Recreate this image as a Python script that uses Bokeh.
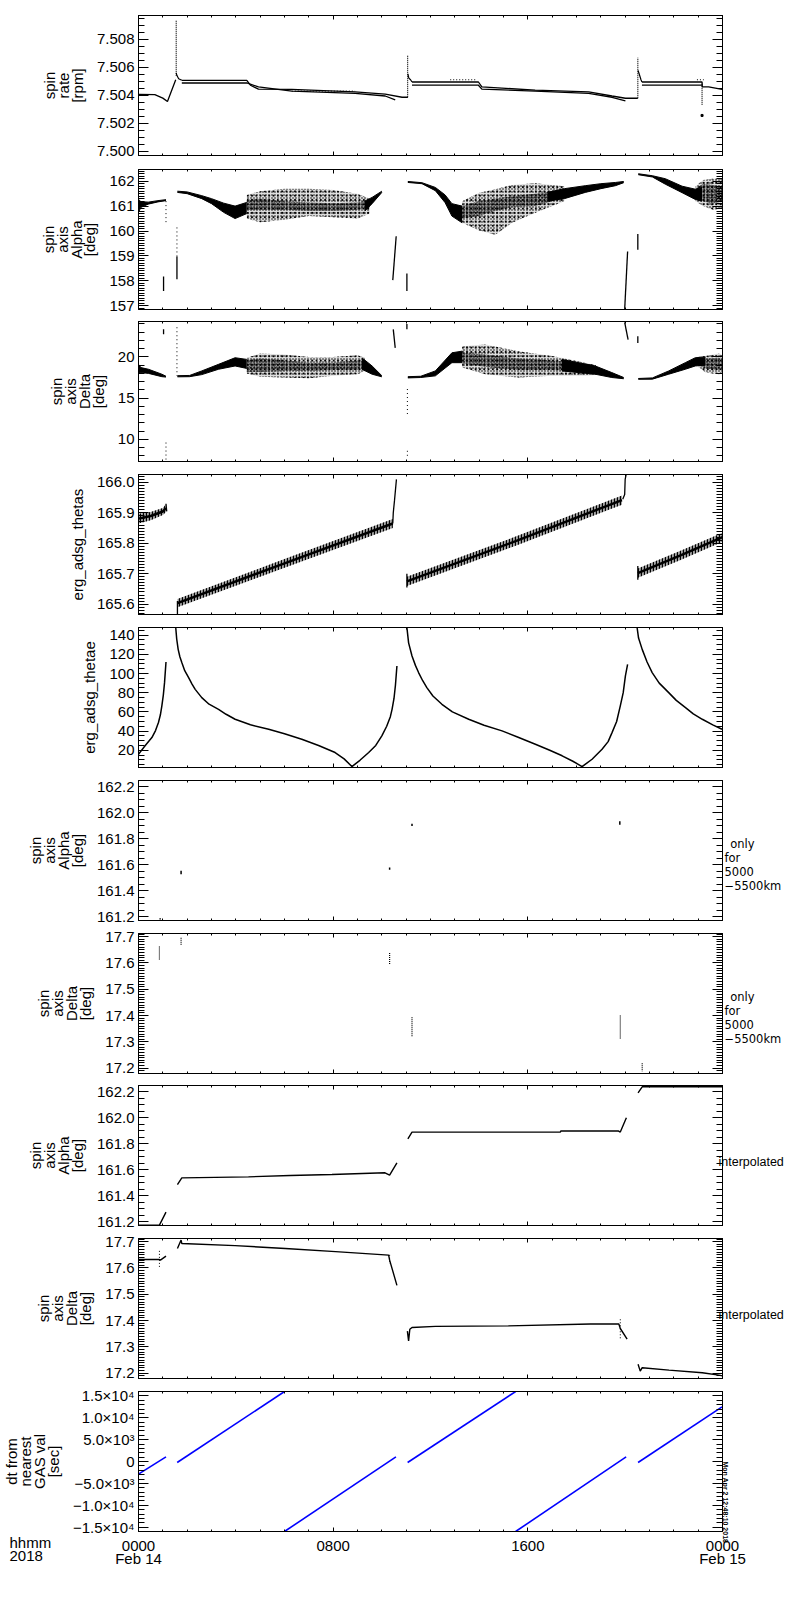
import numpy as np
from bokeh.plotting import figure
from bokeh.layouts import column
from bokeh.models import LinearAxis, FixedTicker, Range1d, Title
from bokeh.embed import file_html
from bokeh.resources import INLINE

FONT = "Liberation Sans"
SIDE_FONT = "DejaVu Sans"

# ---------------------------------------------------------------- x axis (hours after 2018-02-14 00:00)
x_major = [0, 8, 16, 24]
x_minor = list(range(0, 25))
x_tick_labels = ["0000\nFeb 14", "0800", "1600", "0000\nFeb 15"]

# ---------------------------------------------------------------- panel 1 : spin rate [rpm]
rate_ticks = [7.500, 7.502, 7.504, 7.506, 7.508]
rate_tick_labels = ["7.500", "7.502", "7.504", "7.506", "7.508"]
rate_start_t = [0.0, 0.67, 1.0, 1.19, 1.53]
rate_start_v = [7.50407, 7.50405, 7.50380, 7.50356, 7.50511]
rate_up1_t = [1.78, 4.45, 4.6, 4.93, 6.3, 8.9, 10.14, 10.83, 11.07]
rate_up1_v = [7.50507, 7.50507, 7.50472, 7.50444, 7.50442, 7.50425, 7.50409, 7.50386, 7.50386]
rate_lo1_t = [1.78, 4.45, 4.93, 6.3, 8.9, 10.14, 10.55]
rate_lo1_v = [7.50488, 7.50488, 7.50460, 7.50430, 7.50414, 7.50395, 7.50367]
rate_up2_t = [11.24, 13.97, 14.11, 16.3, 18.5, 19.46, 20.01, 20.52]
rate_up2_v = [7.50495, 7.50495, 7.50460, 7.50437, 7.50425, 7.50395, 7.50379, 7.50379]
rate_lo2_t = [11.24, 13.97, 14.11, 16.3, 18.5, 19.46, 20.01]
rate_lo2_v = [7.50472, 7.50472, 7.50444, 7.50430, 7.50414, 7.50386, 7.50360]
rate_up3_t = [20.69, 23.16, 23.17, 23.43, 23.98]
rate_up3_v = [7.50495, 7.50495, 7.50460, 7.50460, 7.50442]
rate_lo3_t = [20.69, 23.16]
rate_lo3_v = [7.50472, 7.50472]
rate_dec_t = [[1.55, 1.58, 1.65, 1.78], [11.07, 11.11, 11.18, 11.24], [20.53, 20.58, 20.65, 20.69]]
rate_dec_v = [[7.50560, 7.50541, 7.50518, 7.50507], [7.50553, 7.50523, 7.50511, 7.50495],
              [7.50578, 7.50550, 7.50511, 7.50495]]
rate_spike_t = [1.55, 11.06, 20.52, 23.16]
rate_spike_lo = [7.50540, 7.50386, 7.50379, 7.50332]
rate_spike_hi = [7.50940, 7.50688, 7.50669, 7.50483]
rate_dots_t = [12.81, 22.95, 6.3]
rate_dots_t1 = [13.90, 23.23, 8.9]
rate_dots_v = [7.50511, 7.50511, 7.50430]
rate_point_t = [23.16]
rate_point_v = [7.50256]

# ---------------------------------------------------------------- panel 2 : spin axis Alpha [deg]
alpha_ticks = [157, 158, 159, 160, 161, 162]
alpha_tick_labels = ["157", "158", "159", "160", "161", "162"]
alpha_solid_t = [[0, 0.1, 0.4, 0.8, 1.13],
                 [1.6, 2.0, 2.6, 3.0, 3.5, 3.97, 4.45],
                 [9.3, 9.6, 10.0],
                 [11.07, 11.65, 12.2, 12.6, 12.88, 13.3],
                 [16.8, 17.5, 18.36, 19.0, 19.6, 19.94],
                 [20.54, 21.12, 21.65, 22.34, 22.88, 23.16]]
alpha_solid_hi = [[161.27, 161.18, 161.16, 161.22, 161.26],
                  [161.60, 161.57, 161.42, 161.30, 161.12, 161.00, 161.15],
                  [161.20, 161.35, 161.60],
                  [161.99, 161.94, 161.75, 161.45, 161.10, 161.00],
                  [161.55, 161.70, 161.82, 161.90, 161.95, 161.99],
                  [162.30, 162.22, 162.10, 161.80, 161.68, 161.75]]
alpha_solid_lo = [[160.75, 160.95, 161.08, 161.17, 161.22],
                  [161.55, 161.50, 161.30, 161.10, 160.75, 160.50, 160.70],
                  [160.80, 161.10, 161.55],
                  [161.95, 161.90, 161.62, 161.14, 160.60, 160.33],
                  [161.20, 161.30, 161.55, 161.70, 161.82, 161.94],
                  [162.26, 162.17, 161.88, 161.54, 161.27, 161.20]]
alpha_cloud_t = [[4.45, 5.0, 6.0, 7.0, 8.0, 9.0, 9.5],
                 [13.3, 13.98, 14.66, 15.35, 16.3, 17.0, 17.5],
                 [22.9, 23.2, 23.6, 24.0]]
alpha_cloud_hi = [[161.45, 161.60, 161.70, 161.70, 161.65, 161.50, 161.30],
                  [161.20, 161.53, 161.68, 161.85, 161.92, 161.85, 161.80],
                  [161.80, 162.05, 162.10, 162.10]]
alpha_cloud_lo = [[160.50, 160.35, 160.45, 160.60, 160.55, 160.50, 160.70],
                  [160.33, 160.03, 159.85, 160.33, 160.73, 161.00, 161.20],
                  [161.20, 161.00, 160.85, 160.90]]
alpha_core_hi = [[161.25, 161.30, 161.20, 161.15, 161.12, 161.15, 161.25],
                 [161.00, 161.20, 161.30, 161.40, 161.50, 161.60, 161.70],
                 [161.70, 161.90, 161.85, 161.80]]
alpha_core_lo = [[160.85, 160.85, 160.85, 160.80, 160.80, 160.85, 160.95],
                 [160.50, 160.60, 160.80, 160.95, 161.00, 161.20, 161.40],
                 [161.30, 161.20, 161.10, 161.20]]
alpha_seg_t0 = [1.03, 10.45, 11.03, 19.98, 20.52, 1.58]
alpha_seg_t1 = [1.03, 10.59, 11.03, 20.10, 20.52, 1.58]
alpha_seg_v0 = [158.17, 158.03, 158.30, 156.85, 159.88, 158.06]
alpha_seg_v1 = [157.59, 159.79, 157.59, 159.18, 159.25, 158.98]
alpha_dot_t = [1.13, 1.58]
alpha_dot_v0 = [161.20, 158.98]
alpha_dot_v1 = [160.26, 160.20]

# ---------------------------------------------------------------- panel 3 : spin axis Delta [deg]
delta_ticks = [10, 15, 20]
delta_tick_labels = ["10", "15", "20"]
delta_solid_t = [[0, 0.1, 0.41, 0.96, 1.13],
                 [1.6, 2.1, 2.6, 3.29, 3.97, 4.45],
                 [9.18, 9.6, 10.0],
                 [11.07, 11.6, 12.2, 12.88, 13.3],
                 [17.4, 18.77, 19.45, 19.94],
                 [20.54, 21.12, 21.79, 22.47, 22.88, 23.3]]
delta_solid_hi = [[19.1, 18.7, 18.5, 17.9, 17.65],
                  [17.72, 17.75, 18.3, 19.1, 19.9, 19.7],
                  [19.9, 18.9, 17.72],
                  [17.6, 17.65, 18.3, 20.5, 20.7],
                  [19.7, 18.9, 18.1, 17.5],
                  [17.38, 17.45, 18.3, 19.3, 19.9, 20.0]]
delta_solid_lo = [[18.1, 18.1, 18.0, 17.6, 17.55],
                  [17.58, 17.6, 17.85, 18.5, 18.9, 18.6],
                  [18.5, 17.9, 17.58],
                  [17.45, 17.5, 17.7, 19.3, 19.3],
                  [18.3, 17.9, 17.5, 17.35],
                  [17.28, 17.3, 17.9, 18.5, 18.9, 19.0]]
delta_cloud_t = [[4.45, 5.0, 6.0, 7.0, 8.0, 9.0, 9.3],
                 [13.3, 14.25, 15.6, 17.0, 18.36, 18.8],
                 [23.0, 23.3, 23.85, 24.0]]
delta_cloud_hi = [[19.9, 20.4, 20.3, 20.0, 20.0, 20.2, 19.9],
                  [21.3, 21.5, 20.7, 20.1, 19.3, 19.0],
                  [20.0, 20.1, 20.4, 20.2]]
delta_cloud_lo = [[18.0, 17.6, 17.5, 17.4, 17.7, 17.9, 18.3],
                  [18.7, 17.9, 17.5, 17.7, 17.7, 17.8],
                  [18.8, 18.1, 17.9, 18.0]]
delta_core_hi = [[19.6, 19.8, 19.6, 19.3, 19.3, 19.6, 19.5],
                 [20.5, 20.3, 19.8, 19.6, 19.2, 18.9],
                 [19.8, 19.8, 19.9, 19.8]]
delta_core_lo = [[18.2, 18.2, 18.3, 18.3, 18.4, 18.4, 18.6],
                 [19.2, 18.8, 18.4, 18.4, 18.2, 18.0],
                 [19.0, 18.6, 18.4, 18.5]]
delta_seg_t0 = [1.03, 10.47, 11.03, 19.98, 20.52]
delta_seg_t1 = [1.03, 10.55, 11.03, 20.12, 20.52]
delta_seg_v0 = [23.35, 23.35, 24.0, 24.2, 22.5]
delta_seg_v1 = [22.75, 21.1, 23.35, 22.1, 21.7]
delta_dot_t = [1.13, 1.58, 11.05, 11.05]
delta_dot_v0 = [9.6, 23.6, 16.1, 8.6]
delta_dot_v1 = [7.3, 17.7, 12.8, 7.8]

# ---------------------------------------------------------------- panel 4 : erg_adsg_thetas
thetas_ticks = [165.6, 165.7, 165.8, 165.9, 166.0]
thetas_tick_labels = ["165.6", "165.7", "165.8", "165.9", "166.0"]
thetas_t = [[0, 0.5, 1.0, 1.13],
            [1.6, 6.0, 10.45],
            [11.03, 15.5, 19.87],
            [20.52, 22.3, 24.0]]
thetas_hi = [[165.897, 165.903, 165.916, 165.928],
             [165.617, 165.748, 165.880],
             [165.690, 165.822, 165.957],
             [165.717, 165.776, 165.835]]
thetas_lo = [[165.865, 165.876, 165.893, 165.903],
             [165.590, 165.720, 165.850],
             [165.660, 165.792, 165.927],
             [165.687, 165.746, 165.805]]
thetas_jump_t = [[1.6, 1.6], [10.45, 10.47, 10.52, 10.6], [19.9, 19.98, 20.0, 20.05],
                 [11.03, 11.03], [20.52, 20.52], [1.13, 1.16]]
thetas_jump_v = [[165.566, 165.61], [165.865, 165.90, 165.94, 166.01], [165.945, 165.96, 166.01, 166.03],
                 [165.655, 165.70], [165.68, 165.725], [165.93, 165.905]]

# ---------------------------------------------------------------- panel 5 : erg_adsg_thetae
thetae_ticks = [20, 40, 60, 80, 100, 120, 140]
thetae_tick_labels = ["20", "40", "60", "80", "100", "120", "140"]
thetae_t = [[0, 0.27, 0.55, 0.7, 0.82, 0.9, 0.96, 1.02, 1.07, 1.13],
            [1.53, 1.57, 1.63, 1.7, 1.78, 1.9, 2.06, 2.2, 2.33, 2.6, 2.9, 3.29, 3.6, 3.97,
             4.6, 5.35, 6.0, 6.71, 7.4, 8.08, 8.45, 8.77,
             9.1, 9.46, 9.75, 10.0, 10.2, 10.35, 10.42, 10.5, 10.56, 10.62],
            [11.03, 11.1, 11.24, 11.38, 11.51, 11.68, 11.85, 12.1, 12.47, 12.9, 13.57, 14.2, 14.94,
             15.6, 16.31, 16.9, 17.41, 17.85, 18.23,
             18.64, 19.05, 19.3, 19.46, 19.65, 19.8, 19.92, 20.01, 20.1],
            [20.49, 20.55, 20.7, 20.9, 21.11, 21.4, 21.79, 22.1, 22.48, 22.8, 23.17, 23.6, 23.98]]
thetae_v = [[15.8, 24.6, 33.2, 40.5, 48.9, 57.0, 66.3, 77.5, 90.5, 112.0],
            [148.0, 136.0, 125.2, 117.5, 111.4, 103.0, 95.7, 89.0, 83.5, 74.9, 68.0, 62.7, 57.5, 52.3,
             46.5, 41.9, 37.2, 31.5, 25.0, 17.6, 11.0, 3.0,
             9.5, 17.6, 25.0, 35.0, 45.0, 55.0, 62.7, 74.0, 88.0, 107.9],
            [148.0, 132.0, 118.3, 108.5, 101.0, 92.5, 85.3, 76.5, 67.9, 60.0, 52.3, 46.0, 40.2,
             33.5, 26.3, 20.0, 14.2, 8.5, 3.0,
             10.6, 21.0, 29.0, 38.4, 50.0, 66.3, 80.0, 97.5, 109.6],
            [148.0, 137.0, 125.2, 112.0, 101.0, 90.0, 80.1, 72.0, 64.5, 58.0, 52.3, 46.5, 41.9]]

# ---------------------------------------------------------------- panels 6 / 8 : Alpha 5000-5500 km, interpolated
alpha2_ticks = [161.2, 161.4, 161.6, 161.8, 162.0, 162.2]
alpha2_tick_labels = ["161.2", "161.4", "161.6", "161.8", "162.0", "162.2"]
alphak_t = [0.89, 1.75, 10.32, 11.24, 19.78]
alphak_v0 = [161.190, 161.554, 161.580, 161.915, 161.934]
alphak_v1 = [161.180, 161.528, 161.562, 161.898, 161.908]
alphai_t = [[0, 0.86, 1.13],
            [1.6, 1.78, 4.52, 6.23, 7.95, 10.13, 10.32, 10.62],
            [11.07, 11.24, 17.34, 17.35, 19.73, 19.8, 20.05],
            [20.53, 20.7, 24.0]]
alphai_v = [[161.175, 161.175, 161.275],
            [161.487, 161.538, 161.546, 161.556, 161.564, 161.577, 161.560, 161.654],
            [161.838, 161.890, 161.890, 161.898, 161.898, 161.890, 162.000],
            [162.192, 162.238, 162.238]]

# ---------------------------------------------------------------- panels 7 / 9 : Delta 5000-5500 km, interpolated
delta2_ticks = [17.2, 17.3, 17.4, 17.5, 17.6, 17.7]
delta2_tick_labels = ["17.2", "17.3", "17.4", "17.5", "17.6", "17.7"]
deltak_t = [0.86, 1.75, 10.32, 11.24, 19.8, 20.7]
deltak_v0 = [17.663, 17.696, 17.638, 17.394, 17.400, 17.219]
deltak_v1 = [17.613, 17.669, 17.594, 17.319, 17.313, 17.188]
deltai_t = [[0, 0.86, 0.9, 1.13],
            [1.6, 1.75, 1.78, 3.97, 6.03, 8.1, 10.28, 10.32, 10.62],
            [11.05, 11.1, 11.15, 11.24, 12.2, 15.2, 18.57, 19.74, 19.8, 20.08],
            [20.53, 20.62, 20.7, 21.8, 23.17, 23.85, 24.0]]
deltai_v = [[17.632, 17.632, 17.630, 17.645],
            [17.674, 17.706, 17.693, 17.685, 17.674, 17.662, 17.649, 17.630, 17.534],
            [17.360, 17.323, 17.367, 17.374, 17.378, 17.380, 17.387, 17.387, 17.370, 17.330],
            [17.234, 17.208, 17.221, 17.212, 17.202, 17.193, 17.190]]
deltai_dot_t = [0.86, 10.32, 19.8]
deltai_dot_v0 = [17.665, 17.650, 17.405]
deltai_dot_v1 = [17.600, 17.615, 17.330]

# ---------------------------------------------------------------- panel 10 : dt from nearest GAS val [sec]
dt_ticks = [-15000, -10000, -5000, 0, 5000, 10000, 15000]
dt_tick_labels = ["\u22121.5\u00d710\u2074", "\u22121.0\u00d710\u2074", "\u22125.0\u00d710\u00b3", "0",
                  "5.0\u00d710\u00b3", "1.0\u00d710\u2074", "1.5\u00d710\u2074"]
dt_t0 = [0.0, 1.59, 6.0, 11.06, 15.5, 20.53]
dt_t1 = [1.13, 6.0, 10.58, 15.5, 20.04, 23.98]
dt_v0 = [-2886, -227, -16000, -227, -16000, -227]
dt_v1 = [1068, 16000, 1068, 16000, 1068, 12500]

side_note_km = "\u2002\n\u2002\n\u2002only\nfor\n5000\n\u22125500km"
side_note_interp = "\u2002\ninterpolated"
time_stamp = "Mon Apr  2 12:48:10 2018" + "\u2003" * 5
corner_note = "hhmm\n2018"


# ================================================================= helpers
def minor(lo, hi, step):
    n = int(round((hi - lo) / step))
    return [round(lo + i * step, 6) for i in range(n + 1)]


def style_axis(ax, vertical, labelled):
    ax.axis_line_color = "black"
    ax.axis_line_width = 1
    ax.major_tick_line_color = "black"
    ax.minor_tick_line_color = "black"
    ax.major_tick_line_width = 1
    ax.minor_tick_line_width = 1
    ax.major_tick_out = 0
    ax.minor_tick_out = 0
    ax.major_tick_in = 10 if vertical else 4
    ax.minor_tick_in = 6 if vertical else 2
    if labelled:
        ax.major_label_text_font = FONT
        ax.major_label_text_font_size = "15px"
        ax.major_label_text_color = "black"
        ax.major_label_text_line_height = 0.82
        ax.axis_label_text_font = FONT
        ax.axis_label_text_font_size = "15px"
        ax.axis_label_text_font_style = "normal"
        ax.axis_label_text_color = "black"
        ax.axis_label_text_line_height = 0.82
    else:
        ax.major_label_text_font_size = "1px"
        ax.major_label_standoff = 0


def make_panel(yr, yticks, ytick_labels, yminor, ylabel, top, bottom, show_x=False,
               side_note=None, side_font=SIDE_FONT, side_size="11.5px", side_standoff=2,
               side_line_height=1.0):
    p = figure(frame_width=584, frame_height=140, min_border_left=129, min_border_right=71,
               min_border_top=top, min_border_bottom=bottom,
               x_range=Range1d(0, 24), y_range=Range1d(*yr),
               x_axis_location=None, y_axis_location=None,
               output_backend="svg", toolbar_location=None)
    p.grid.visible = False
    p.outline_line_color = "black"
    p.background_fill_color = "white"
    p.border_fill_color = "white"
    yt = FixedTicker(ticks=yticks, minor_ticks=yminor)
    xt = FixedTicker(ticks=x_major, minor_ticks=x_minor)
    left = LinearAxis(ticker=yt, major_label_overrides=dict(zip(yticks, ytick_labels)),
                      axis_label=ylabel, major_label_standoff=4, axis_label_standoff=8)
    style_axis(left, True, True)
    right = LinearAxis(ticker=yt, major_label_overrides={t: "" for t in yticks})
    style_axis(right, True, False)
    if side_note is not None:
        right.axis_label = side_note
        right.axis_label_orientation = "horizontal"
        right.axis_label_standoff = side_standoff
        right.axis_label_text_font = side_font
        right.axis_label_text_font_size = side_size
        right.axis_label_text_font_style = "normal"
        right.axis_label_text_color = "black"
        right.axis_label_text_line_height = side_line_height
    if show_x:
        below = LinearAxis(ticker=xt, major_label_overrides=dict(zip(x_major, x_tick_labels)),
                           major_label_standoff=5)
        style_axis(below, False, True)
    else:
        below = LinearAxis(ticker=xt, major_label_overrides={t: "" for t in x_major})
        style_axis(below, False, False)
    above = LinearAxis(ticker=xt, major_label_overrides={t: "" for t in x_major})
    style_axis(above, False, False)
    p.add_layout(left, "left")
    p.add_layout(right, "right")
    p.add_layout(below, "below")
    p.add_layout(above, "above")
    return p


def solid_band(p, t, lo, hi):
    p.varea(x=t, y1=lo, y2=hi, fill_color="black")
    p.line(t, lo, line_color="black", line_width=1)
    p.line(t, hi, line_color="black", line_width=1)


def cloud_band(p, t, lo, hi):
    p.varea(x=t, y1=lo, y2=hi, fill_color="black", fill_alpha=0.12)
    for sc in (3.0, 4.3):
        p.varea(x=t, y1=lo, y2=hi, fill_color=None, hatch_pattern=".", hatch_scale=sc,
                hatch_color="black", hatch_weight=1)


def core_band(p, t, lo, hi):
    p.varea(x=t, y1=lo, y2=hi, fill_color="black", fill_alpha=0.22)
    for sc in (2.5, 3.6):
        p.varea(x=t, y1=lo, y2=hi, fill_color=None, hatch_pattern=".", hatch_scale=sc,
                hatch_color="black", hatch_weight=1)


# ================================================================= panel 1
p1 = make_panel((7.4997, 7.5097), rate_ticks, rate_tick_labels, minor(7.4995, 7.5095, 0.0005),
                "spin\nrate\n[rpm]", 15, 8)
for t, v in ((rate_start_t, rate_start_v), (rate_up1_t, rate_up1_v), (rate_lo1_t, rate_lo1_v),
             (rate_up2_t, rate_up2_v), (rate_lo2_t, rate_lo2_v), (rate_up3_t, rate_up3_v),
             (rate_lo3_t, rate_lo3_v)):
    p1.line(t, v, line_color="black", line_width=1.3)
for t, v in zip(rate_dec_t, rate_dec_v):
    p1.line(t, v, line_color="black", line_width=1.2)
p1.segment(x0=rate_spike_t, y0=rate_spike_lo, x1=rate_spike_t, y1=rate_spike_hi,
           line_color="black", line_width=1.2, line_dash="1 1")
p1.segment(x0=rate_dots_t, y0=rate_dots_v, x1=rate_dots_t1, y1=rate_dots_v,
           line_color="black", line_width=1, line_dash="1 2")
p1.scatter(rate_point_t, rate_point_v, size=2, color="black", marker="square")

# ================================================================= panel 2
p2 = make_panel((156.85, 162.47), alpha_ticks, alpha_tick_labels, minor(156.9, 162.4, 0.1),
                "spin\naxis\nAlpha\n[deg]", 6, 6)
for t, lo, hi in zip(alpha_cloud_t, alpha_cloud_lo, alpha_cloud_hi):
    cloud_band(p2, t, lo, hi)
for t, lo, hi in zip(alpha_cloud_t, alpha_core_lo, alpha_core_hi):
    core_band(p2, t, lo, hi)
for t, lo, hi in zip(alpha_solid_t, alpha_solid_lo, alpha_solid_hi):
    solid_band(p2, t, lo, hi)
p2.segment(x0=alpha_seg_t0, y0=alpha_seg_v0, x1=alpha_seg_t1, y1=alpha_seg_v1,
           line_color="black", line_width=1.3)
p2.segment(x0=alpha_dot_t, y0=alpha_dot_v0, x1=alpha_dot_t, y1=alpha_dot_v1,
           line_color="black", line_width=1, line_dash="1 3")

# ================================================================= panel 3
p3 = make_panel((7.3, 24.3), delta_ticks, delta_tick_labels, minor(8, 24, 1),
                "spin\naxis\nDelta\n[deg]", 6, 7)
for t, lo, hi in zip(delta_cloud_t, delta_cloud_lo, delta_cloud_hi):
    cloud_band(p3, t, lo, hi)
for t, lo, hi in zip(delta_cloud_t, delta_core_lo, delta_core_hi):
    core_band(p3, t, lo, hi)
for t, lo, hi in zip(delta_solid_t, delta_solid_lo, delta_solid_hi):
    solid_band(p3, t, lo, hi)
p3.segment(x0=delta_seg_t0, y0=delta_seg_v0, x1=delta_seg_t1, y1=delta_seg_v1,
           line_color="black", line_width=1.3)
p3.segment(x0=delta_dot_t, y0=delta_dot_v0, x1=delta_dot_t, y1=delta_dot_v1,
           line_color="black", line_width=1, line_dash="1 3")

# ================================================================= panel 4
p4 = make_panel((165.566, 166.026), thetas_ticks, thetas_tick_labels, minor(165.57, 166.02, 0.01),
                "erg_adsg_thetas", 6, 7)
for t, lo, hi in zip(thetas_t, thetas_lo, thetas_hi):
    p4.varea(x=t, y1=lo, y2=hi, fill_color="black", fill_alpha=0.35, hatch_pattern="|",
             hatch_scale=3, hatch_color="black", hatch_weight=1.3)
    mid = [(a + b) / 2 for a, b in zip(lo, hi)]
    p4.line(t, mid, line_color="black", line_width=2.5)
for t, v in zip(thetas_jump_t, thetas_jump_v):
    p4.line(t, v, line_color="black", line_width=1.3)

# ================================================================= panel 5
p5 = make_panel((2, 148), thetae_ticks, thetae_tick_labels, minor(5, 145, 5),
                "erg_adsg_thetae", 6, 7)
for t, v in zip(thetae_t, thetae_v):
    p5.line(t, v, line_color="black", line_width=1.5)

# ================================================================= panel 6
p6 = make_panel((161.172, 162.248), alpha2_ticks, alpha2_tick_labels, minor(161.2, 162.2, 0.05),
                "spin\naxis\nAlpha\n[deg]", 6, 7, side_note=side_note_km)
p6.segment(x0=alphak_t, y0=alphak_v0, x1=alphak_t, y1=alphak_v1, line_color="black", line_width=1.5)

# ================================================================= panel 7
p7 = make_panel((17.18, 17.712), delta2_ticks, delta2_tick_labels, minor(17.19, 17.71, 0.01),
                "spin\naxis\nDelta\n[deg]", 6, 6, side_note=side_note_km)
p7.segment(x0=deltak_t, y0=deltak_v0, x1=deltak_t, y1=deltak_v1, line_color="black",
           line_width=1.2, line_dash="1 1")

# ================================================================= panel 8
p8 = make_panel((161.172, 162.248), alpha2_ticks, alpha2_tick_labels, minor(161.2, 162.2, 0.05),
                "spin\naxis\nAlpha\n[deg]", 6, 7, side_note=side_note_interp, side_font=FONT,
                side_size="12.5px", side_standoff=-4, side_line_height=0.9)
for t, v in zip(alphai_t, alphai_v):
    p8.line(t, v, line_color="black", line_width=1.4)

# ================================================================= panel 9
p9 = make_panel((17.18, 17.712), delta2_ticks, delta2_tick_labels, minor(17.19, 17.71, 0.01),
                "spin\naxis\nDelta\n[deg]", 6, 7, side_note=side_note_interp, side_font=FONT,
                side_size="12.5px", side_standoff=-4, side_line_height=0.9)
for t, v in zip(deltai_t, deltai_v):
    p9.line(t, v, line_color="black", line_width=1.4)
p9.segment(x0=deltai_dot_t, y0=deltai_dot_v0, x1=deltai_dot_t, y1=deltai_dot_v1,
           line_color="black", line_width=1, line_dash="1 2")

# ================================================================= panel 10
p10 = make_panel((-16000, 16000), dt_ticks, dt_tick_labels, minor(-16000, 16000, 1000),
                 "dt from\nnearest\nGAS val\n[sec]", 6, 44, show_x=True)
p10.segment(x0=dt_t0, y0=dt_v0, x1=dt_t1, y1=dt_v1, line_color="#0000ff", line_width=1.6)
corner = Title(text=corner_note, align="left", offset=-129, standoff=-74, vertical_align="top",
               text_font=FONT, text_font_size="15px", text_font_style="normal", text_color="black")
try:
    corner.text_line_height = 0.82
except Exception:
    pass
p10.add_layout(corner, "below")
ra = p10.right[0]
ra.axis_label = time_stamp
ra.axis_label_standoff = 3
ra.axis_label_text_font = FONT
ra.axis_label_text_font_size = "7px"
ra.axis_label_text_font_style = "bold"
ra.axis_label_text_color = "black"
try:
    ra.axis_label_orientation = float(-np.pi / 2)
except Exception:
    ra.axis_label_orientation = "vertical"

layout = column(p1, p2, p3, p4, p5, p6, p7, p8, p9, p10, spacing=0)
open("out.html", "w").write(file_html(layout, INLINE))
